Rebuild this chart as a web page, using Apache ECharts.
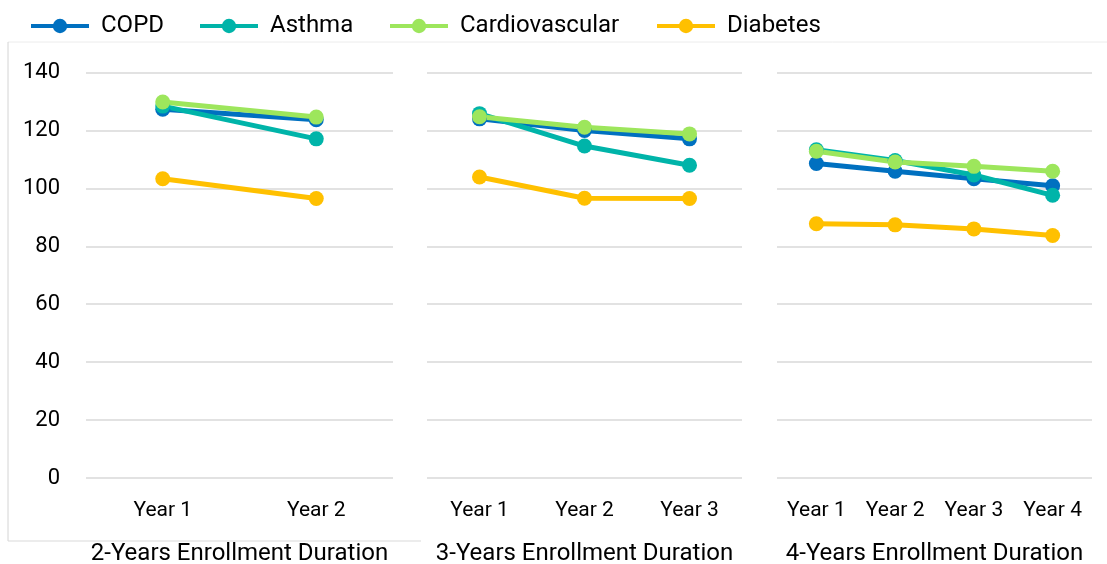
<!DOCTYPE html>
<html>
<head>
<meta charset="utf-8">
<script src="https://cdn.jsdelivr.net/npm/echarts@6/dist/echarts.min.js"></script>
<style>
  html, body { margin: 0; padding: 0; background: #fff; }
  #chart { width: 1107px; height: 564px; }
</style>
</head>
<body>
<div id="chart"></div>
<script>
// 系列名称与颜色
const seriesNames = ['COPD', 'Asthma', 'Cardiovascular', 'Diabetes']
const seriesColors = ['#0070c0', '#00b4a9', '#9de65c', '#ffc000']

// 三个面板的标题与横轴类目
const panelTitles = ['2-Years Enrollment Duration', '3-Years Enrollment Duration', '4-Years Enrollment Duration']
const years2 = ['Year 1', 'Year 2']
const years3 = ['Year 1', 'Year 2', 'Year 3']
const years4 = ['Year 1', 'Year 2', 'Year 3', 'Year 4']

// 纵轴刻度
const yMin = 0
const yMax = 140
const yStep = 20

// 2 年数据
const copd2 = [127.3, 123.7]
const asthma2 = [128.4, 117.1]
const cardio2 = [129.8, 124.6]
const diabetes2 = [103.3, 96.5]

// 3 年数据
const copd3 = [124.0, 120.0, 117.1]
const asthma3 = [125.8, 114.6, 108.0]
const cardio3 = [124.7, 121.1, 118.8]
const diabetes3 = [103.9, 96.6, 96.5]

// 4 年数据
const copd4 = [108.6, 105.9, 103.3, 100.9]
const asthma4 = [113.3, 109.6, 104.6, 97.6]
const cardio4 = [112.8, 109.1, 107.6, 105.9]
const diabetes4 = [87.8, 87.4, 86.0, 83.7]

const panels = [
  { cats: years2, data: [copd2, asthma2, cardio2, diabetes2] },
  { cats: years3, data: [copd3, asthma3, cardio3, diabetes3] },
  { cats: years4, data: [copd4, asthma4, cardio4, diabetes4] },
]

const FONT = "Roboto, sans-serif"
const TEXT = '#000'

const grids = [
  { left: 86, width: 307, top: 72.5, bottom: 86 },
  { left: 427, width: 315, top: 72.5, bottom: 86 },
  { left: 777, width: 315, top: 72.5, bottom: 86 },
].map((g) => Object.assign(g, { containLabel: false, outerBoundsMode: 'none' }))

const xAxes = panels.map((p, i) => ({
  type: 'category',
  gridIndex: i,
  data: p.cats,
  boundaryGap: true,
  axisLine: { show: false },
  axisTick: { show: false },
  axisLabel: { fontFamily: FONT, fontSize: 21, color: TEXT, margin: 22, interval: 0 },
  name: panelTitles[i],
  nameLocation: 'middle',
  nameGap: 64,
  nameTextStyle: { fontFamily: FONT, fontSize: 24, color: TEXT },
}))

const yAxes = panels.map((p, i) => ({
  type: 'value',
  gridIndex: i,
  min: yMin,
  max: yMax,
  interval: yStep,
  axisLine: { show: false },
  axisTick: { show: false },
  axisLabel: { show: i === 0, fontFamily: FONT, fontSize: 22, color: TEXT, margin: 26 },
  splitLine: { lineStyle: { color: '#d9d9d9', width: 1.5 } },
}))

const series = []
panels.forEach((p, i) => {
  p.data.forEach((vals, k) => {
    series.push({
      name: seriesNames[k],
      type: 'line',
      xAxisIndex: i,
      yAxisIndex: i,
      data: vals,
      symbol: 'circle',
      symbolSize: 15,
      lineStyle: { width: 5, color: seriesColors[k] },
      itemStyle: { color: seriesColors[k] },
      animation: false,
    })
  })
})

// 图例分开定位，保持和原图一致的横向位置
const legendLefts = [29, 198, 388, 655]
const legends = seriesNames.map((name, k) => ({
  data: [name],
  left: legendLefts[k],
  top: 14,
  padding: 0,
  itemWidth: 58,
  itemHeight: 18,
  lineStyle: { width: 4 },
  textStyle: { fontFamily: FONT, fontSize: 24, lineHeight: 24, color: TEXT, padding: [0, 0, 0, 7] },
}))

const chart = echarts.init(document.getElementById('chart'), null, { renderer: 'canvas' })
chart.setOption({
  backgroundColor: '#fff',
  animation: false,
  legend: legends,
  grid: grids,
  xAxis: xAxes,
  yAxis: yAxes,
  series: series,
  graphic: [
    { type: 'line', silent: true, shape: { x1: 8, y1: 42, x2: 1107, y2: 42 }, style: { stroke: '#ececec', lineWidth: 1 } },
    { type: 'line', silent: true, shape: { x1: 8, y1: 42, x2: 8, y2: 541 }, style: { stroke: '#d4d4d4', lineWidth: 1 } },
    { type: 'line', silent: true, shape: { x1: 8, y1: 541, x2: 421, y2: 541 }, style: { stroke: '#d9d9d9', lineWidth: 1 } },
  ],
})
</script>
</body>
</html>
